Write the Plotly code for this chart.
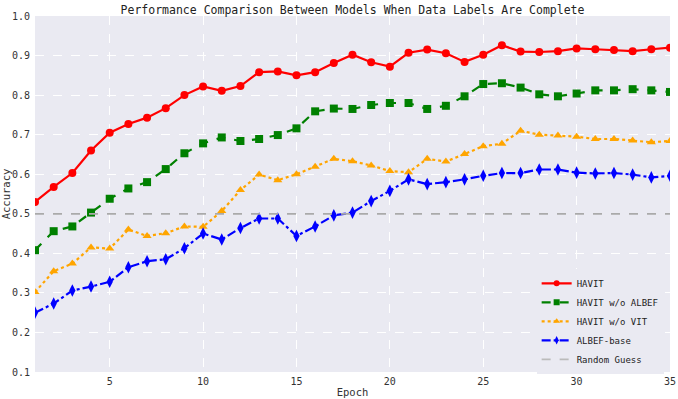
import plotly.graph_objects as go

epochs = list(range(1, 36))
havit = [0.530, 0.568, 0.603, 0.660, 0.705, 0.727, 0.743, 0.767, 0.800, 0.822,
         0.811, 0.823, 0.858, 0.860, 0.850, 0.858, 0.881, 0.902, 0.883, 0.872,
         0.907, 0.915, 0.906, 0.884, 0.902, 0.926, 0.910, 0.909, 0.911, 0.918,
         0.916, 0.914, 0.911, 0.916, 0.920]
havit_wo_albef = [0.408, 0.456, 0.468, 0.503, 0.538, 0.564, 0.580, 0.613, 0.653, 0.678,
                  0.693, 0.684, 0.689, 0.699, 0.716, 0.759, 0.766, 0.765, 0.775, 0.780,
                  0.780, 0.765, 0.773, 0.797, 0.828, 0.830, 0.819, 0.802, 0.797, 0.804,
                  0.812, 0.812, 0.815, 0.812, 0.808]
havit_wo_vit = [0.302, 0.355, 0.374, 0.415, 0.412, 0.460, 0.444, 0.451, 0.468, 0.467,
                0.507, 0.560, 0.599, 0.585, 0.600, 0.619, 0.639, 0.633, 0.622, 0.608,
                0.605, 0.639, 0.632, 0.651, 0.671, 0.677, 0.710, 0.700, 0.698, 0.695,
                0.689, 0.689, 0.685, 0.681, 0.684]
albef_base = [0.250, 0.273, 0.306, 0.316, 0.328, 0.365, 0.380, 0.385, 0.413, 0.450,
              0.435, 0.464, 0.488, 0.488, 0.444, 0.468, 0.496, 0.503, 0.532, 0.558,
              0.587, 0.575, 0.580, 0.587, 0.596, 0.603, 0.603, 0.612, 0.612, 0.604,
              0.602, 0.603, 0.599, 0.592, 0.596]
random_guess = 0.5

FONT = "DejaVu Sans Mono"

fig = go.Figure()
series = [
    ("HAVIT", havit, "red", "solid", "circle", 8),
    ("HAVIT w/o ALBEF", havit_wo_albef, "green", "dash", "square", 8),
    ("HAVIT w/o VIT", havit_wo_vit, "orange", "dot", "triangle-up", 8),
    ("ALBEF-base", albef_base, "blue", "dashdot", "diamond-tall", 9),
]
for name, ys, color, dash, sym, sz in series:
    fig.add_trace(go.Scatter(
        x=epochs, y=ys, name=name, mode="lines+markers",
        line=dict(color=color, width=2.2, dash=dash),
        marker=dict(symbol=sym, size=sz, color=color),
        showlegend=False,
    ))
fig.add_trace(go.Scatter(
    x=[epochs[0], epochs[-1]], y=[random_guess, random_guess], name="Random Guess",
    mode="lines", line=dict(color="#AAAAAA", width=1.8, dash="dash"),
    showlegend=False,
))
# legend-only entries with smaller markers
for name, ys, color, dash, sym, sz in series:
    fig.add_trace(go.Scatter(
        x=[None], y=[None], name=name, mode="lines+markers",
        line=dict(color=color, width=2.2, dash=dash),
        marker=dict(symbol=sym, size=6, color=color),
    ))
fig.add_trace(go.Scatter(
    x=[None], y=[None], name="Random Guess", mode="lines",
    line=dict(color="#BBBBBB", width=1.8, dash="dash"),
))

fig.update_layout(
    width=678, height=399,
    margin=dict(l=35, r=8, t=16, b=27),
    paper_bgcolor="white",
    plot_bgcolor="#EAEAF2",
    font=dict(family=FONT, size=10, color="#333333"),
    title=dict(text="Performance Comparison Between Models When Data Labels Are Complete",
               xref="paper", x=0.5, xanchor="center", y=0.985, yanchor="top",
               font=dict(family=FONT, size=11.5, color="#222222")),
    legend=dict(x=0.99, y=-0.005, xanchor="right", yanchor="bottom",
                bgcolor="#EAEAF2", borderwidth=0,
                font=dict(family=FONT, size=9, color="#222222"),
                itemwidth=30, tracegroupgap=0),
    xaxis=dict(range=[1, 35], tickvals=[5, 10, 15, 20, 25, 30, 35],
               showgrid=True, gridcolor="white", griddash="dash", gridwidth=1,
               zeroline=False, showline=False, automargin=False,
               title=dict(text="Epoch", standoff=2, font=dict(size=10.5)),
               ticks="", ticklabelstandoff=2),
    yaxis=dict(range=[0.1, 1.0], tickvals=[0.1, 0.2, 0.3, 0.4, 0.5, 0.6, 0.7, 0.8, 0.9, 1.0],
               tickformat=".1f",
               showgrid=True, gridcolor="white", griddash="dash", gridwidth=1,
               zeroline=False, showline=False, automargin=False,
               title=dict(text="Accuracy", standoff=2, font=dict(size=10.5)),
               ticks="", ticklabelstandoff=4),
    showlegend=True,
)

fig.write_html("out.html")
